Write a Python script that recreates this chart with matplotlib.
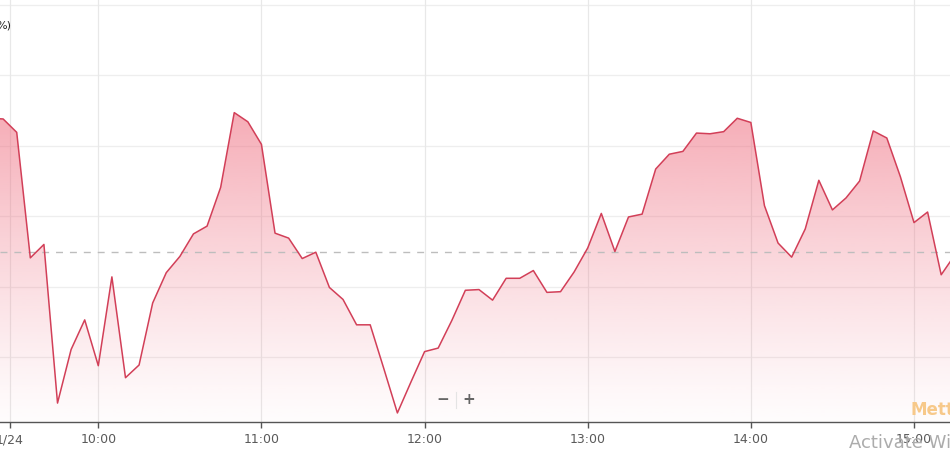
import matplotlib
matplotlib.use("Agg")
import matplotlib.pyplot as plt
import numpy as np
from matplotlib.patches import Polygon

# ---- data (percent change vs previous close, 5-minute intervals) ----
times = ["09:20", "09:25", "09:30", "09:35", "09:40", "09:45", "09:50", "09:55",
         "10:00", "10:05", "10:10", "10:15", "10:20", "10:25", "10:30", "10:35",
         "10:40", "10:45", "10:50", "10:55", "11:00", "11:05", "11:10", "11:15",
         "11:20", "11:25", "11:30", "11:35", "11:40", "11:45", "11:50", "11:55",
         "12:00", "12:05", "12:10", "12:15", "12:20", "12:25", "12:30", "12:35",
         "12:40", "12:45", "12:50", "12:55", "13:00", "13:05", "13:10", "13:15",
         "13:20", "13:25", "13:30", "13:35", "13:40", "13:45", "13:50", "13:55",
         "14:00", "14:05", "14:10", "14:15", "14:20", "14:25", "14:30", "14:35",
         "14:40", "14:45", "14:50", "14:55", "15:00", "15:05", "15:10", "15:15"]
values = [1.89, 1.88, 1.69, -0.09, 0.10, -2.15, -1.39, -0.97,
          -1.62, -0.36, -1.79, -1.61, -0.73, -0.30, -0.07, 0.25,
          0.36, 0.91, 1.97, 1.84, 1.52, 0.26, 0.19, -0.10,
          -0.01, -0.51, -0.68, -1.04, -1.04, -1.66, -2.29, -1.85,
          -1.42, -1.37, -0.98, -0.55, -0.54, -0.69, -0.38, -0.38,
          -0.27, -0.58, -0.57, -0.29, 0.05, 0.54, 0.00, 0.49,
          0.53, 1.17, 1.38, 1.42, 1.68, 1.67, 1.70, 1.89,
          1.83, 0.65, 0.12, -0.08, 0.32, 1.01, 0.59, 0.76,
          1.00, 1.71, 1.61, 1.06, 0.41, 0.56, -0.33, -0.05]
prev_close = 0.0
tick_times = ["09:27:30", "10:00", "11:00", "12:00", "13:00", "14:00", "15:00"]
tick_labels = ["1/24", "10:00", "11:00", "12:00", "13:00", "14:00", "15:00"]
grid_levels = [-1.5, -0.5, 0.5, 1.5, 2.5, 3.5]


def to_min(s):
    parts = [float(p) for p in s.split(":")]
    m = parts[0] * 60 + parts[1]
    if len(parts) > 2:
        m += parts[2] / 60.0
    return m


x = np.array([to_min(t) for t in times])
y = np.array(values)
xt = [to_min(t) for t in tick_times]

fig = plt.figure(figsize=(9.5, 4.5), dpi=100)
ax = fig.add_axes([0, 28 / 450, 1, 422 / 450])

px_per_min = (914.0 - 98.3) / 300.0
x0 = 600 - 98.3 / px_per_min
x1 = 600 + (950 - 98.3) / px_per_min
ylo = (251.5 - 422) / 70.5
yhi = 251.5 / 70.5
ax.set_xlim(x0, x1)
ax.set_ylim(ylo, yhi)

# grid
for g in grid_levels:
    ax.axhline(g, color="#eeeeee", lw=0.9, zorder=0)
for t in xt:
    ax.axvline(t, color="#e8e8e8", lw=0.9, zorder=0)

# gradient fill
top = y.max()
n = 256
grad = np.linspace(0, 1, n)[:, None]  # 0 bottom -> 1 top
rgba = np.zeros((n, 1, 4))
base = np.array([239, 110, 128]) / 255.0
rgba[..., 0] = base[0]
rgba[..., 1] = base[1]
rgba[..., 2] = base[2]
rgba[..., 3] = 0.02 + 0.55 * grad ** 1.2
im = ax.imshow(rgba, extent=[x.min(), x.max(), ylo, top], origin="lower",
               aspect="auto", zorder=1, interpolation="bilinear")
verts = np.vstack([[x[0], ylo], np.column_stack([x, y]), [x[-1], ylo]])
poly = Polygon(verts, closed=True, facecolor="none", edgecolor="none")
ax.add_patch(poly)
im.set_clip_path(poly)

ax.axhline(prev_close, color="#bdbdbd", lw=1.0, ls=(0, (5, 5)), zorder=2)
ax.plot(x, y, color="#d23f58", lw=1.1, zorder=3)

# axes styling
for s in ["top", "right", "left"]:
    ax.spines[s].set_visible(False)
ax.spines["bottom"].set_color("#555555")
ax.spines["bottom"].set_linewidth(1.0)
ax.set_yticks([])
ax.set_xticks(xt)
ax.set_xticklabels(tick_labels)
ax.tick_params(axis="x", colors="#555555", labelcolor="#5a5a5a", length=4,
               width=1, labelsize=9, pad=4)

# texts
fig.text(-0.004, 1 - 25 / 450, "%)", fontsize=8, color="#222222", va="center", ha="left")
ax.text(443 / 950, (422 - 400) / 422, "−", transform=ax.transAxes, fontsize=11,
        color="#666666", ha="center", va="center", fontweight="bold")
ax.text(469 / 950, (422 - 400) / 422, "+", transform=ax.transAxes, fontsize=11,
        color="#666666", ha="center", va="center", fontweight="bold")
ax.plot([456 / 950, 456 / 950], [(422 - 392) / 422, (422 - 408) / 422],
        transform=ax.transAxes, color="#e4e4e4", lw=0.8)
ax.text(911 / 950, (422 - 410) / 422, "Mett", transform=ax.transAxes, fontsize=12,
        color="#f7c98a", ha="left", va="center", fontweight="bold")
fig.text(849 / 950, 1 - 443 / 450, "Activate Wi", fontsize=13, color="#acacac",
         ha="left", va="center")

fig.savefig("out.png", dpi=100)
